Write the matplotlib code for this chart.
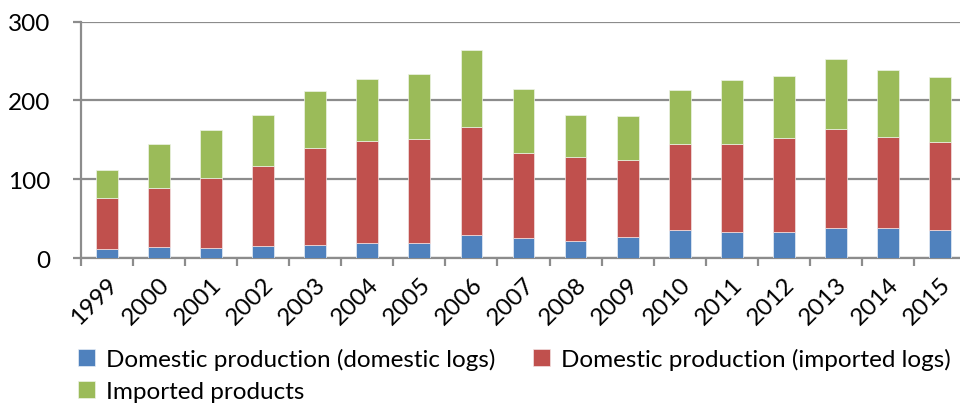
import matplotlib.pyplot as plt
import numpy as np

years = ["1999", "2000", "2001", "2002", "2003", "2004", "2005", "2006", "2007",
         "2008", "2009", "2010", "2011", "2012", "2013", "2014", "2015"]
dom_logs = [12, 14, 13, 15, 17, 19, 19, 29, 25, 22, 27, 35, 33, 33, 38, 38, 35]
imp_logs = [64, 75, 89, 102, 123, 129, 132, 137, 108, 106, 97, 110, 112, 119, 126, 116, 112]
imp_products = [35, 55, 61, 64, 72, 79, 83, 98, 82, 54, 56, 68, 81, 79, 88, 84, 82]

labels = ["Domestic production (domestic logs)",
          "Domestic production (imported logs)",
          "Imported products"]
colors = ["#4F81BD", "#C0504D", "#9BBB59"]

plt.rcParams['font.family'] = ['Lato', 'DejaVu Sans']
grid_col = "#8C8C8C"

fig = plt.figure(figsize=(9.6, 4.1), dpi=100)
ax = fig.add_axes([81/960, 151/410, 885/960, 236.5/410])

x = np.arange(len(years))
dom = np.array(dom_logs)
imp = np.array(imp_logs)
prod = np.array(imp_products)

b1 = ax.bar(x, dom, width=0.42, color=colors[0], edgecolor="#E8EEF6", linewidth=0.5, zorder=3)
b2 = ax.bar(x, imp, width=0.42, bottom=dom, color=colors[1], edgecolor="#F3E3E3", linewidth=0.5, zorder=3)
b3 = ax.bar(x, prod, width=0.42, bottom=dom + imp, color=colors[2], edgecolor="#EEF3E6", linewidth=0.5, zorder=3)

ax.set_xlim(-0.5, len(years) - 0.5)
ax.set_ylim(0, 300)
ax.set_yticks([0, 100, 200, 300])
ax.yaxis.grid(True, color=grid_col, linewidth=1.6, zorder=0)

for s in ["top", "right"]:
  ax.spines[s].set_visible(False)
for s in ["left", "bottom"]:
  ax.spines[s].set_color(grid_col)
  ax.spines[s].set_linewidth(1.6)

ax.tick_params(axis="y", length=6, width=1.6, color=grid_col, labelsize=17.5, pad=16)
ax.set_xticks(x)
ax.set_xticklabels(years, rotation=45, ha="right", va="top", rotation_mode="anchor")
ax.tick_params(axis="x", which="major", length=0, labelsize=17.5, pad=11)
ax.set_xticks(np.arange(len(years) + 1) - 0.5, minor=True)
ax.tick_params(axis="x", which="minor", length=6, width=1.6, color=grid_col)

fig.legend([b1, b3, b2], [labels[0], labels[2], labels[1]], ncol=2,
           loc="upper left", bbox_to_anchor=(78/960, 1 - 349/410),
           frameon=False, fontsize=17.5, handlelength=0.7, handleheight=0.7,
           handletextpad=0.45, columnspacing=1.55, labelspacing=0.45,
           borderaxespad=0, borderpad=0)

fig.savefig("out.png", dpi=100)
